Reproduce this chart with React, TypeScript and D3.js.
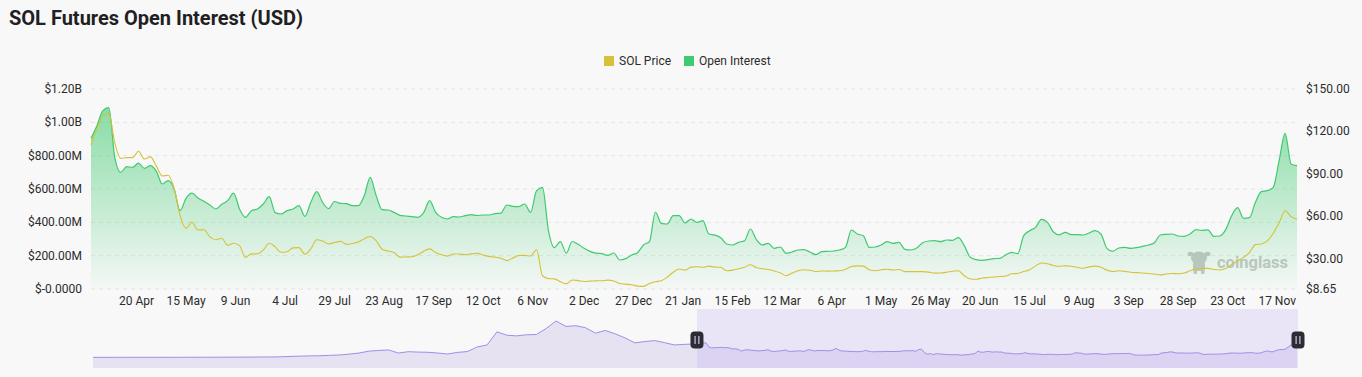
import React from "react";
import * as d3 from "d3";

// ---------- DATA ----------
const START_DATE = "2022-03-28";
const STEP_DAYS = 3;
const NAV_START_DATE = "2020-07-23";
const NAV_STEP_DAYS = 10;

// Open interest, USD millions, every 3 days from START_DATE
const openInterestM: number[] = [
  904, 980, 1070, 1088, 790, 700, 734, 730, 755, 724,
  740, 706, 630, 650, 600, 470, 544, 575, 546, 526,
  504, 480, 508, 530, 575, 480, 430, 470, 480, 510,
  554, 458, 450, 470, 480, 500, 436, 520, 584, 518,
  482, 525, 514, 512, 500, 500, 560, 670, 560, 476,
  474, 460, 442, 438, 434, 430, 458, 530, 460, 430,
  420, 434, 432, 440, 446, 441, 444, 444, 452, 455,
  504, 496, 494, 510, 460, 590, 610, 350, 248, 284,
  215, 285, 268, 244, 226, 215, 212, 202, 216, 174,
  182, 204, 218, 264, 284, 462, 394, 390, 440, 440,
  396, 420, 400, 410, 330, 324, 308, 270, 264, 280,
  290, 360, 296, 264, 274, 244, 252, 214, 222, 234,
  236, 222, 206, 224, 226, 228, 234, 250, 354, 330,
  320, 250, 252, 264, 284, 274, 280, 238, 234, 246,
  278, 288, 290, 284, 294, 292, 308, 260, 190, 176,
  172, 176, 182, 184, 205, 220, 212, 320, 350, 370,
  418, 400, 342, 325, 340, 326, 326, 324, 336, 350,
  330, 244, 226, 246, 250, 244, 248, 256, 264, 278,
  324, 328, 330, 318, 316, 330, 356, 352, 355, 316,
  318, 356, 440, 488, 424, 428, 520, 584, 590, 610,
  772, 934, 750, 740,
];

// SOL price, USD, same dates
const solPrice: number[] = [
  110.4, 122, 131, 133, 112, 101, 101.5, 101.5, 106, 100.5,
  102, 95.5, 88.5, 89, 79.5, 60.5, 51.5, 56, 50.4, 50.5,
  45.5, 43.5, 44.5, 39.5, 41, 39.3, 31, 33.5, 33.5, 36.2,
  41, 38.4, 34.6, 35, 37.7, 37.9, 33.3, 37, 43.5, 42.5,
  40.5, 41.5, 42.3, 40.2, 40.8, 41.8, 44.2, 45.8, 42.7, 36.8,
  35.5, 34.5, 31.2, 31.3, 31.4, 32.8, 35.4, 37, 34.4, 32.8,
  31.9, 33.4, 33.4, 32.9, 33.5, 33.8, 32.7, 31.7, 31.2, 30.4,
  28.7, 30.5, 32.3, 32.4, 32, 36.4, 18, 16, 15.8, 13.8,
  12.3, 15, 14.6, 14, 14.2, 14.4, 14.5, 14.9, 14.3, 12.6,
  12.1, 11.6, 10.7, 10.5, 12.5, 13.8, 14.5, 17, 20.5, 22.8,
  22, 24.1, 24.4, 24, 24.8, 24.1, 24, 21.5, 22, 23,
  24, 25.8, 23.8, 23, 22.4, 21.4, 20.1, 18, 19.9, 21.6,
  22.3, 21.9, 21, 21.4, 21.3, 21.4, 21.6, 22.5, 24.5, 25,
  24.8, 22.3, 21.6, 22.2, 22.6, 22.1, 22.4, 20.9, 20.9, 20.9,
  20.9, 20.6, 19.9, 20, 20.5, 21.2, 21.5, 18, 15.7, 15.5,
  16.4, 16.8, 17.1, 17.5, 17.8, 19.4, 19.6, 21, 22.3, 25,
  27, 26.5, 25.3, 24.7, 25, 24.7, 24, 23.3, 24.3, 24.8,
  24, 22, 21, 21.5, 21.1, 20.5, 20.2, 20, 19.6, 19.2,
  18.6, 19.3, 19.6, 19.4, 19.9, 21.5, 22.9, 23.3, 23.2, 22.5,
  22.1, 23.1, 26, 28.4, 31, 34.4, 40, 40.5, 42.7, 48,
  55.5, 64, 59.8, 58,
];

// Earlier open-interest history for the navigator, USD millions, every 10 days from NAV_START_DATE
const historyOIM: number[] = [
  12, 12, 13, 13, 14, 14, 15, 15, 16, 17, 18, 19, 20, 22, 25, 28, 32, 36,
  40, 50, 80, 100, 120, 130, 160, 185, 250, 330, 470, 520,
  560, 330, 430, 400, 385, 330, 260, 380, 440, 780,
  930, 1900, 1650, 1600, 1680, 1700, 2150, 2700, 2300, 2350,
  2200, 1800, 2000, 1750, 1450, 1080, 1180, 1250, 1100, 930,
  970, 1000,
];

const xTickDates = [
  "2022-04-20", "2022-05-15", "2022-06-09", "2022-07-04", "2022-07-29", "2022-08-23",
  "2022-09-17", "2022-10-12", "2022-11-06", "2022-12-02", "2022-12-27", "2023-01-21",
  "2023-02-15", "2023-03-12", "2023-04-06", "2023-05-01", "2023-05-26", "2023-06-20",
  "2023-07-15", "2023-08-09", "2023-09-03", "2023-09-28", "2023-10-23", "2023-11-17",
];
const xTickLabels = [
  "20 Apr", "15 May", "9 Jun", "4 Jul", "29 Jul", "23 Aug", "17 Sep", "12 Oct",
  "6 Nov", "2 Dec", "27 Dec", "21 Jan", "15 Feb", "12 Mar", "6 Apr", "1 May",
  "26 May", "20 Jun", "15 Jul", "9 Aug", "3 Sep", "28 Sep", "23 Oct", "17 Nov",
];
const leftTicks = [0, 200, 400, 600, 800, 1000, 1200];
const leftTickLabels = ["$-0.0000", "$200.00M", "$400.00M", "$600.00M", "$800.00M", "$1.00B", "$1.20B"];
const rightTicks = [8.65, 30, 60, 90, 120, 150];
const rightTickLabels = ["$8.65", "$30.00", "$60.00", "$90.00", "$120.00", "$150.00"];

const seriesNames = ["SOL Price", "Open Interest"];

// ---------- STYLE / LAYOUT ----------
const W = 1362;
const H = 377;
const PLOT = { left: 91, right: 1297, top: 89, bottom: 289 };
const NAV = { left: 93, right: 1297, top: 309, bottom: 368 };
const FONT = "Roboto, 'Noto Sans', Arial, sans-serif";
const GREEN = "#3fca70";
const YELLOW = "#d6c13a";
const TEXT = "#2b2b2b";
const BG = "#f8f8f8";

export default function App() {
  const parse = d3.utcParse("%Y-%m-%d");
  const start = parse(START_DATE) as Date;
  const dates = openInterestM.map((_, i) => d3.utcDay.offset(start, i * STEP_DAYS));
  const end = dates[dates.length - 1];

  const x = d3.scaleUtc().domain([start, end]).range([PLOT.left, PLOT.right]);
  const yL = d3.scaleLinear().domain([0, 1200]).range([PLOT.bottom, PLOT.top]);
  const yR = d3.scaleLinear().domain([8.65, 150]).range([PLOT.bottom, PLOT.top]);

  const oiArea = d3
    .area<number>()
    .x((_, i) => x(dates[i]))
    .y0(PLOT.bottom)
    .y1((d) => yL(d))
    .curve(d3.curveMonotoneX);
  const oiLine = d3
    .line<number>()
    .x((_, i) => x(dates[i]))
    .y((d) => yL(d))
    .curve(d3.curveMonotoneX);
  const priceLine = d3
    .line<number>()
    .x((_, i) => x(dates[i]))
    .y((d) => yR(d))
    .curve(d3.curveMonotoneX);

  // navigator
  const navStart = parse(NAV_START_DATE) as Date;
  const navPoints: { d: Date; v: number }[] = [
    ...historyOIM.map((v, k) => ({ d: d3.utcDay.offset(navStart, k * NAV_STEP_DAYS), v })),
    ...openInterestM.map((v, i) => ({ d: dates[i], v })),
  ];
  const nx = d3.scaleUtc().domain([navStart, end]).range([NAV.left, NAV.right]);
  const ny = d3.scaleLinear().domain([0, 2700]).range([357.5, 321]);
  const navArea = d3
    .area<{ d: Date; v: number }>()
    .x((p) => nx(p.d))
    .y0(NAV.bottom)
    .y1((p) => ny(p.v));
  const navLine = d3
    .line<{ d: Date; v: number }>()
    .x((p) => nx(p.d))
    .y((p) => ny(p.v));
  const selL = nx(start);
  const selR = nx(end) + 1;

  const handle = (cx: number, key: string) => (
    <g key={key}>
      <rect x={cx - 6.5} y={331.5} width={13} height={17} rx={4} fill="#2c2b36" />
      <rect x={cx - 2.5} y={336} width={1.2} height={8} fill="#c9c6dc" />
      <rect x={cx + 1.3} y={336} width={1.2} height={8} fill="#c9c6dc" />
    </g>
  );

  return (
    <svg
      width={W}
      height={H}
      style={{ position: "absolute", left: 0, top: 0, display: "block" }}
      fontFamily={FONT}
    >
      <defs>
        <linearGradient id="oiGrad" x1="0" y1="0" x2="0" y2="1">
          <stop offset="0%" stopColor={GREEN} stopOpacity={0.6} />
          <stop offset="100%" stopColor={GREEN} stopOpacity={0.02} />
        </linearGradient>
      </defs>
      <rect x={0} y={0} width={W} height={H} fill={BG} />

      {/* title */}
      <text x={9} y={25} fontSize={20} fontWeight={700} fill="#1f1f24">
        SOL Futures Open Interest (USD)
      </text>

      {/* legend */}
      <g fontSize={12} fill={TEXT}>
        <rect x={604} y={56} width={10} height={10} fill={YELLOW} />
        <text x={619} y={65}>{seriesNames[0]}</text>
        <rect x={684} y={56} width={10} height={10} fill={GREEN} />
        <text x={699} y={65}>{seriesNames[1]}</text>
      </g>

      {/* gridlines */}
      {leftTicks.map((t) => (
        <line
          key={"g" + t}
          x1={PLOT.left}
          x2={PLOT.right}
          y1={yL(t)}
          y2={yL(t)}
          stroke="#e4e4e4"
          strokeDasharray="4,4"
        />
      ))}

      {/* left axis labels */}
      {leftTicks.map((t, i) => (
        <text key={"l" + t} x={82} y={yL(t) + 4} fontSize={12} textAnchor="end" fill={TEXT}>
          {leftTickLabels[i]}
        </text>
      ))}
      {/* right axis labels */}
      {rightTicks.map((t, i) => (
        <text key={"r" + t} x={1306} y={yR(t) + 4} fontSize={12} textAnchor="start" fill={TEXT}>
          {rightTickLabels[i]}
        </text>
      ))}
      {/* x axis labels */}
      {xTickDates.map((d, i) => (
        <text key={"x" + d} x={x(parse(d) as Date)} y={305} fontSize={12} textAnchor="middle" fill={TEXT}>
          {xTickLabels[i]}
        </text>
      ))}

      {/* watermark */}
      <g fill="#c6c6c6">
        <ellipse cx={1199} cy={258} rx={8} ry={6.5} />
        <ellipse cx={1190.5} cy={254} rx={3} ry={2.2} />
        <ellipse cx={1207.5} cy={254} rx={3} ry={2.2} />
        <rect x={1193} y={262} width={12} height={9} rx={2} />
        <rect x={1193.5} y={269} width={3.5} height={5} rx={1} />
        <rect x={1201} y={269} width={3.5} height={5} rx={1} />
        <text x={1217} y={268} fontSize={16} fontWeight={700} textLength={71} lengthAdjust="spacingAndGlyphs">
          coinglass
        </text>
      </g>

      {/* series */}
      <path d={oiArea(openInterestM) || ""} fill="url(#oiGrad)" />
      <path d={oiLine(openInterestM) || ""} fill="none" stroke={GREEN} strokeWidth={1.2} />
      <path d={priceLine(solPrice) || ""} fill="none" stroke={YELLOW} strokeWidth={1.1} />

      {/* navigator */}
      <path d={navArea(navPoints) || ""} fill="#e6e2f1" />
      <rect x={selL} y={NAV.top} width={selR - selL} height={NAV.bottom - NAV.top} fill="rgb(180,160,240)" fillOpacity={0.22} />
      <path d={navLine(navPoints) || ""} fill="none" stroke="#9f8fe8" strokeWidth={1} />
      {handle(selL, "h1")}
      {handle(selR, "h2")}
    </svg>
  );
}
